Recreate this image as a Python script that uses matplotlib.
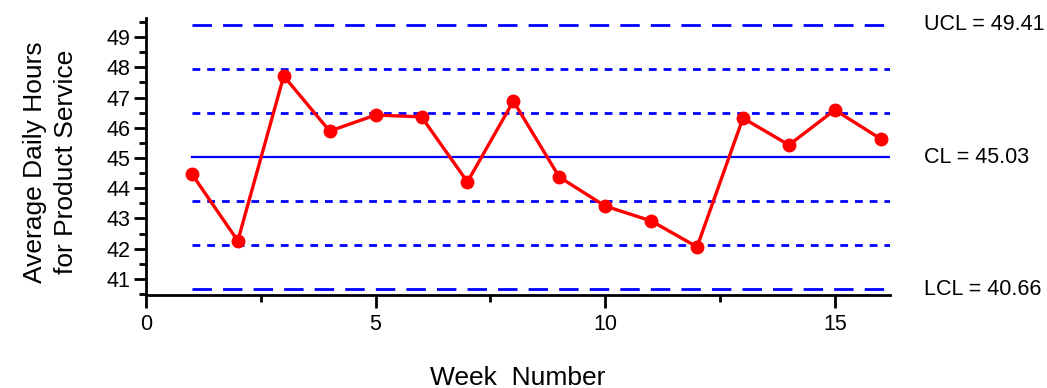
import matplotlib.pyplot as plt
from matplotlib.ticker import MultipleLocator

plt.rcParams['font.family'] = ['Liberation Sans', 'DejaVu Sans']

weeks = list(range(1, 17))
hours = [44.47, 42.26, 47.71, 45.89, 46.42, 46.36, 44.21, 46.88,
         44.37, 43.41, 42.92, 42.06, 46.32, 45.43, 46.59, 45.63]
ucl = 49.41
cl = 45.03
lcl = 40.66
sigma = (ucl - cl) / 3
limit_labels = ['UCL = 49.41', 'CL = 45.03', 'LCL = 40.66']

fig = plt.figure(figsize=(10.47, 3.88), dpi=100)
ax = fig.add_axes([0.1394, 0.2397, 0.7106, 0.714])

x0, x1 = 1, 16.2
ax.plot([x0, x1], [ucl, ucl], color='#0000ff', lw=2, dashes=(7, 4))
ax.plot([x0, x1], [lcl, lcl], color='#0000ff', lw=2, dashes=(7, 4))
ax.plot([x0, x1], [cl, cl], color='#0000ff', lw=1.6)
for k in (1, 2):
    for s in (-1, 1):
        yv = cl + s * k * sigma
        ax.plot([x0, x1], [yv, yv], color='#0000ff', lw=2, dashes=(2.8, 2.5))

ax.plot(weeks, hours, color='#ff0000', lw=2.4, marker='o', ms=9, clip_on=False)

ax.set_xlim(0, 16.2)
ax.set_ylim(40.47, 49.63)
ax.spines['top'].set_visible(False)
ax.spines['right'].set_visible(False)
ax.spines['left'].set_linewidth(2)
ax.spines['bottom'].set_linewidth(2)

ax.xaxis.set_major_locator(MultipleLocator(5))
ax.xaxis.set_minor_locator(MultipleLocator(2.5))
ax.yaxis.set_major_locator(MultipleLocator(1))
ax.yaxis.set_minor_locator(MultipleLocator(0.5))
ax.tick_params(axis='both', which='major', width=2, length=9, labelsize=15.5, pad=2)
ax.tick_params(axis='x', which='major', pad=5)
ax.tick_params(axis='both', which='minor', width=2, length=5)
ax.set_yticks(range(41, 50))

ax.set_ylabel('Average Daily Hours\nfor Product Service', fontsize=19, linespacing=1.35)
ax.yaxis.set_label_coords(-0.092, 0.48)
ax.set_xlabel('Week  Number', fontsize=19)
ax.xaxis.set_label_coords(0.5, -0.255)

for txt, yv in zip(limit_labels, [ucl, cl, lcl]):
    ax.text(16.95, yv, txt, fontsize=15.5, va='center', ha='left')

fig.savefig('out.png', dpi=100)
